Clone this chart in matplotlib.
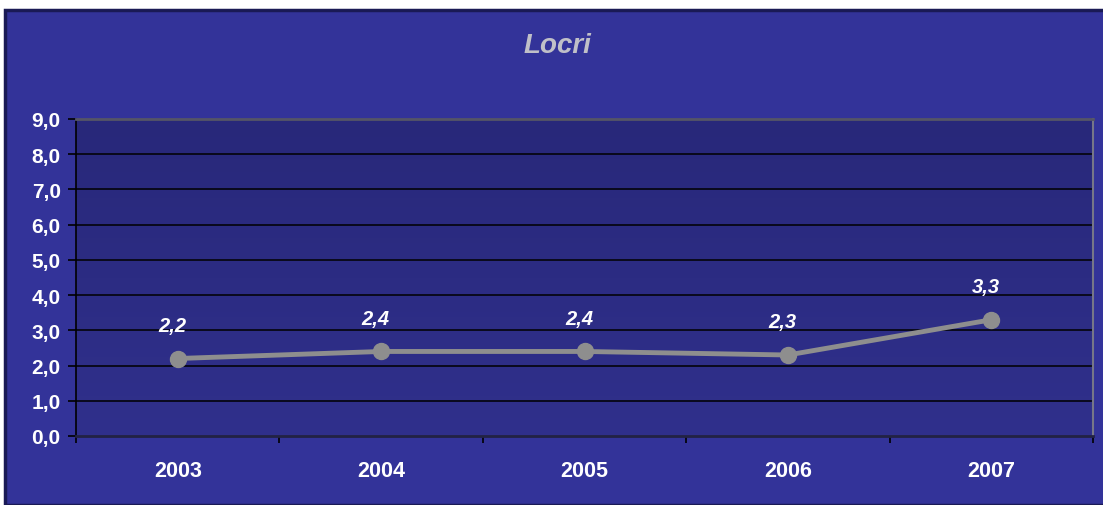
import matplotlib.pyplot as plt
import numpy as np
from matplotlib.patches import Rectangle
from matplotlib.colors import LinearSegmentedColormap

years = ['2003', '2004', '2005', '2006', '2007']
values = [2.2, 2.4, 2.4, 2.3, 3.3]
value_labels = ['2,2', '2,4', '2,4', '2,3', '3,3']
yticks = [0, 1, 2, 3, 4, 5, 6, 7, 8, 9]
ytick_labels = ['0,0', '1,0', '2,0', '3,0', '4,0', '5,0', '6,0', '7,0', '8,0', '9,0']

plt.rcParams['font.family'] = ['Liberation Sans', 'DejaVu Sans']

W, H = 1103, 506
fig = plt.figure(figsize=(W / 100, H / 100), dpi=100)
fig.patch.set_facecolor('white')

# outer chart frame
fig.patches.append(Rectangle((5 / W, 0), 1, 1 - 11 / H, transform=fig.transFigure,
                             facecolor='#333399', edgecolor='#1a1a55', linewidth=2.5, zorder=-10))

ax = fig.add_axes([76 / W, (H - 437) / H, (1093 - 76) / W, (437 - 120) / H])
ax.set_facecolor('none')
ax.set_zorder(5)

# plot area gradient, darker at the top
grad = np.linspace(0, 1, 256).reshape(-1, 1)
cmap = LinearSegmentedColormap.from_list('bg', ['#30308c', '#28287a'])
ax.imshow(grad, extent=[0, 1, 0, 1], transform=ax.transAxes, cmap=cmap,
          aspect='auto', origin='lower', zorder=0)

x = np.arange(len(years))
ax.set_xlim(-0.5, len(years) - 0.5)
ax.set_ylim(0, 9)

for y in yticks[1:-1]:
    ax.axhline(y, color='black', linewidth=1.1, zorder=1)

ax.plot(x, values, color='#8e8e8e', linewidth=3.5, marker='o', markersize=11.5, zorder=3)
for xi, v, lab in zip(x, values, value_labels):
    ax.annotate(lab, (xi, v), xytext=(-4, 24), textcoords='offset points', ha='center', va='center',
                color='white', fontsize=14.5, fontweight='bold', fontstyle='italic', zorder=4)

ax.set_yticks(yticks)
ax.set_yticklabels(ytick_labels)
ax.set_xticks(x)
ax.set_xticklabels(years)
ax.set_xticks(np.arange(-0.5, len(years)), minor=True)
ax.tick_params(axis='x', which='major', length=0, pad=17, labelsize=15.5, labelcolor='white')
ax.tick_params(axis='x', which='minor', length=5, width=1.2, color='black', direction='out')
ax.tick_params(axis='y', length=6, width=1.2, color='black', direction='out', pad=5,
               labelsize=15, labelcolor='white')
for t in ax.get_xticklabels() + ax.get_yticklabels():
    t.set_fontweight('bold')

ax.spines['left'].set_color('black')
ax.spines['left'].set_linewidth(1.2)
ax.spines['bottom'].set_color('#222244')
ax.spines['bottom'].set_linewidth(2)
ax.spines['top'].set_color('#555566')
ax.spines['top'].set_linewidth(2)
ax.spines['right'].set_color('#777788')
ax.spines['right'].set_linewidth(1.5)

fig.text(557 / W, 1 - 46 / H, 'Locri', ha='center', va='center', color='#c0c0c8',
         fontsize=20, fontweight='bold', fontstyle='italic')

fig.savefig('out.png', dpi=100)
